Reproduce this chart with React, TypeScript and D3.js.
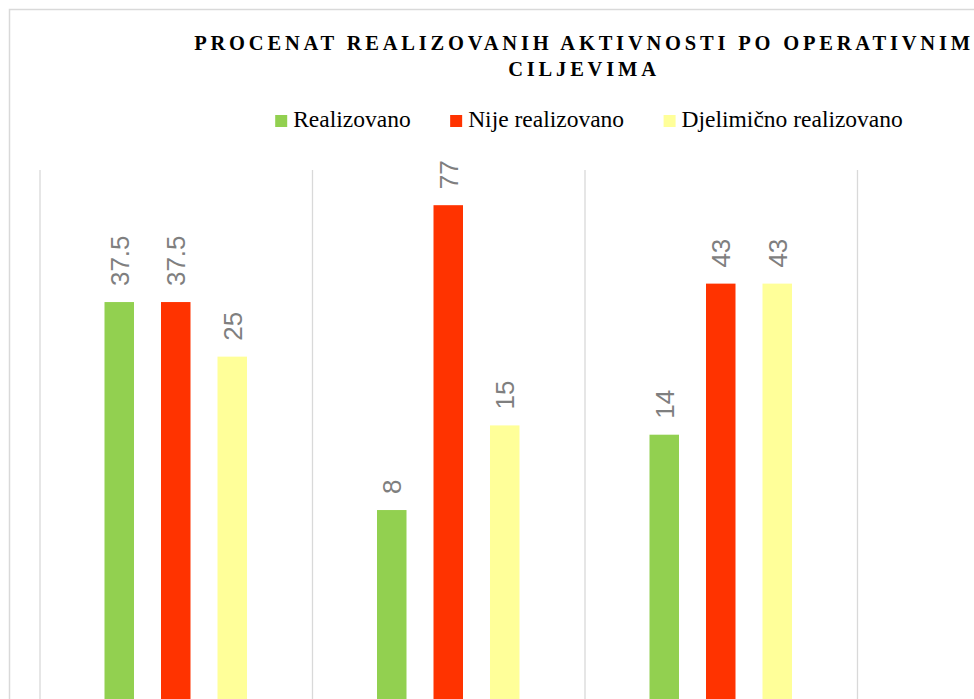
import React from "react";
import * as d3 from "d3";

const categories = ["Operativni cilj 1", "Operativni cilj 2", "Operativni cilj 3"];
const seriesNames = ["Realizovano", "Nije realizovano", "Djelimično realizovano"];
const seriesColors = ["#92D050", "#FF3300", "#FFFF99"];
const realizovano = [37.5, 8, 14];
const nijeRealizovano = [37.5, 77, 43];
const djelimicno = [25, 15, 43];
const titleLines = ["PROCENAT REALIZOVANIH AKTIVNOSTI PO OPERATIVNIM", "CILJEVIMA"];

const W = 974;
const H = 699;
const SERIF = "Liberation Serif";
const LEGEND_SIZE = 23.5;

function measure(text: string, font: string): number {
  const c = document.createElement("canvas").getContext("2d");
  if (!c) return text.length * 10;
  c.font = font;
  return c.measureText(text).width;
}

export default function App() {
  const seriesValues = [realizovano, nijeRealizovano, djelimicno];
  const x0 = d3.scaleBand<string>().domain(categories).range([40, 857.5]).padding(0);
  const x1 = d3.scaleBand<number>().domain([0, 1, 2]).range([51, x0.bandwidth() - 52]).padding(0);
  const y = d3.scaleLog().domain([1, 100]).range([790, 170]);
  const barW = 29.5;
  const bounds = categories.map((c) => x0(c)!).concat([x0.range()[1]]);

  const widths = seriesNames.map((n) => 18 + measure(n, `${LEGEND_SIZE}px "${SERIF}"`));
  const gap = 39.5;
  const total = d3.sum(widths) + gap * (widths.length - 1);
  const starts: number[] = [];
  let cur = 589 - total / 2;
  widths.forEach((w) => { starts.push(cur); cur += w + gap; });

  return (
    <svg width={W} height={H} style={{ position: "absolute", left: 0, top: 0, overflow: "hidden", background: "#fff" }}>
      <rect x={9.5} y={9.5} width={1200} height={1000} fill="#fff" stroke="#D9D9D9" strokeWidth={1.5} />
      <g>
        {bounds.map((b, i) => (
          <line key={i} x1={b} x2={b} y1={y(100)} y2={H + 10} stroke="#D9D9D9" strokeWidth={1.3} />
        ))}
      </g>
      {categories.map((c, ci) => (
        <g key={c}>
          {seriesValues.map((vals, si) => {
            const v = vals[ci];
            const cx = x0(c)! + x1(si)! + x1.bandwidth() / 2;
            return (
              <g key={si}>
                <rect x={cx - barW / 2} y={y(v)} width={barW} height={y(1) - y(v)} fill={seriesColors[si]} />
                <text
                  transform={`translate(${cx},${y(v) - 16}) rotate(-90)`}
                  dy="0.36em"
                  textAnchor="start"
                  fontFamily="Liberation Sans"
                  fontSize={26}
                  fill="#7F7F7F"
                >
                  {String(v)}
                </text>
              </g>
            );
          })}
        </g>
      ))}
      <text textAnchor="middle" fontFamily={SERIF} fontWeight="bold" fontSize={20.5} letterSpacing={3.8} fill="#000">
        {titleLines.map((t, i) => (
          <tspan key={i} x={584} y={50 + i * 26}>{t}</tspan>
        ))}
      </text>
      <g>
        {seriesNames.map((n, i) => (
          <g key={n} transform={`translate(${starts[i]},127)`}>
            <rect y={-12} width={12} height={12} fill={seriesColors[i]} />
            <text x={18} y={0} fontFamily={SERIF} fontSize={LEGEND_SIZE} fill="#000">{n}</text>
          </g>
        ))}
      </g>
    </svg>
  );
}
